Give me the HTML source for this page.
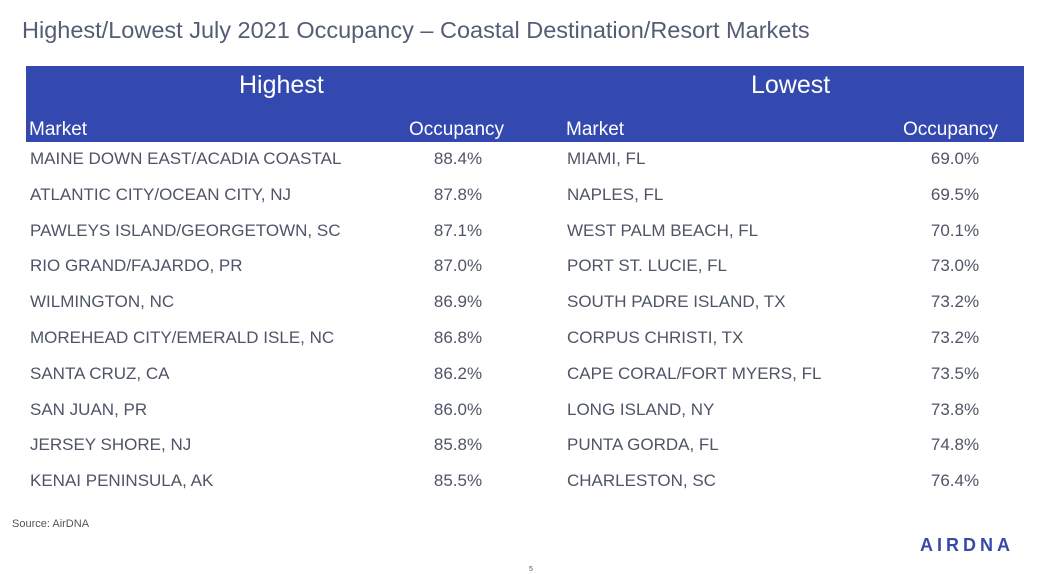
<!DOCTYPE html>
<html><head><meta charset="utf-8"><style>
body{margin:0;width:1044px;height:574px;background:#fff;position:relative;overflow:hidden;font-family:"Liberation Sans",sans-serif}
.a{position:absolute;white-space:nowrap}
#title{left:22px;top:17px;font-size:23.5px;color:#545d74}
#hdr{left:26px;top:66px;width:998px;height:76px;background:#3349b0}
.h{color:#fff}
.r{color:#4f5566;font-size:17px}
</style></head><body>
<div class="a" id="title">Highest/Lowest July 2021 Occupancy – Coastal Destination/Resort Markets</div>
<div class="a" id="hdr"></div>
<div class="a h" style="left:239px;top:71px;font-size:25px">Highest</div>
<div class="a h" style="left:751px;top:71px;font-size:25px">Lowest</div>
<div class="a h" style="left:29px;top:119px;font-size:19px">Market</div>
<div class="a h" style="left:409px;top:119px;font-size:19px">Occupancy</div>
<div class="a h" style="left:566px;top:119px;font-size:19px">Market</div>
<div class="a h" style="left:903px;top:119px;font-size:19px">Occupancy</div>
<div id="rows"></div>
<div class="a" style="left:12px;top:518px;font-size:11px;color:#555">Source: AirDNA</div>
<div class="a" style="left:529px;top:566px;font-size:7px;color:#555">5</div>
<div class="a" style="left:920px;top:535px;font-size:18px;font-weight:bold;letter-spacing:4px;color:#3a48a8">AIRDNA</div>
<script>
const highMarkets=["MAINE DOWN EAST/ACADIA COASTAL","ATLANTIC CITY/OCEAN CITY, NJ","PAWLEYS ISLAND/GEORGETOWN, SC","RIO GRAND/FAJARDO, PR","WILMINGTON, NC","MOREHEAD CITY/EMERALD ISLE, NC","SANTA CRUZ, CA","SAN JUAN, PR","JERSEY SHORE, NJ","KENAI PENINSULA, AK"];
const highValues=[88.4,87.8,87.1,87.0,86.9,86.8,86.2,86.0,85.8,85.5];
const lowMarkets=["MIAMI, FL","NAPLES, FL","WEST PALM BEACH, FL","PORT ST. LUCIE, FL","SOUTH PADRE ISLAND, TX","CORPUS CHRISTI, TX","CAPE CORAL/FORT MYERS, FL","LONG ISLAND, NY","PUNTA GORDA, FL","CHARLESTON, SC"];
const lowValues=[69.0,69.5,70.1,73.0,73.2,73.2,73.5,73.8,74.8,76.4];
const rows=document.getElementById('rows');
function cell(txt,left,top,center){
  const d=document.createElement('div');
  d.className='a r';
  d.textContent=txt;
  d.style.top=top+'px';
  if(center){d.style.left=(left-40)+'px';d.style.width='80px';d.style.textAlign='center';}
  else d.style.left=left+'px';
  rows.appendChild(d);
  return d;
}
for(let i=0;i<highMarkets.length;i++){
  const y=149+i*35.8;
  let d=cell(highMarkets[i],30,y,false);
  
  
  d=cell(highValues[i].toFixed(1)+'%',458,y,true);
  
  
  d=cell(lowMarkets[i],567,y,false);
  
  
  d=cell(lowValues[i].toFixed(1)+'%',955,y,true);
  
  
}
</script>
</body></html>
